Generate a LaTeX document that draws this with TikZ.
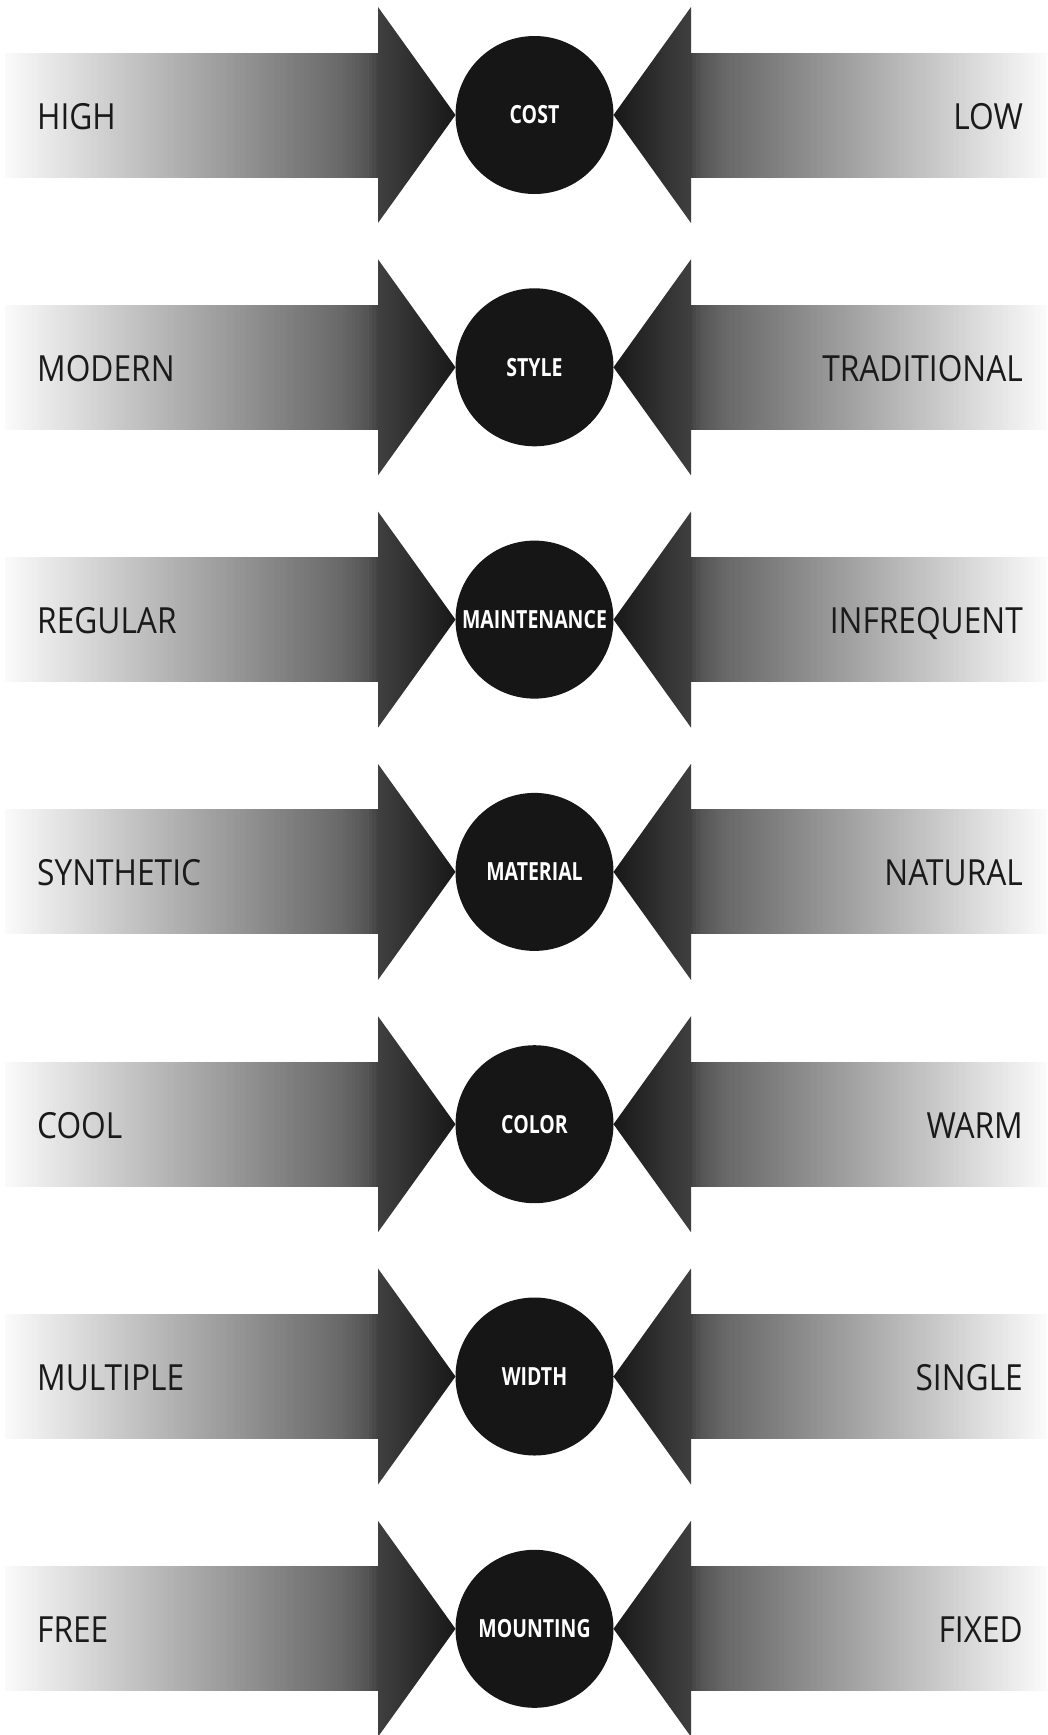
\documentclass[tikz,border=0pt]{standalone}
\usepackage{fontspec}
\newfontfamily\lblfont[FakeStretch=0.88]{Open Sans}
\newfontfamily\ctrfont[FakeStretch=0.78]{Open Sans}
\definecolor{headbase}{HTML}{404040}
\definecolor{headtip}{HTML}{181818}
\definecolor{circ}{HTML}{161616}
\definecolor{txt}{HTML}{1A1A1A}
\tikzset{
  ctr/.style={circle, fill=circ, minimum size=158pt, inner sep=0pt, text=white,
    font=\ctrfont\bfseries\fontsize{25}{28}\selectfont},
  lbl/.style={inner sep=0pt, text=txt, font=\lblfont\fontsize{36}{40}\selectfont},
  headL/.style={left color=headbase, right color=headtip},
  headR/.style={left color=headtip, right color=headbase},
  strip/.style={fill=tmpg}
}
\begin{document}
\begin{tikzpicture}[x=1pt,y=-1pt]
\useasboundingbox (0,0) rectangle (1047,1735);
\fill[white] (0,0) rectangle (1047,1735);
\foreach \i/\lt/\ct/\rt in {0/HIGH/COST/LOW, 1/MODERN/STYLE/TRADITIONAL, 2/REGULAR/MAINTENANCE/INFREQUENT, 3/SYNTHETIC/MATERIAL/NATURAL, 4/COOL/COLOR/WARM, 5/MULTIPLE/WIDTH/SINGLE, 6/FREE/MOUNTING/FIXED}{
  \pgfmathsetmacro\cy{115+252.3*\i}
  % gradient shafts (drawn as thin strips)
  \foreach \k in {0,...,109}{
    \pgfmathsetmacro\tpos{(\k+0.5)/110}
    \pgfmathsetmacro\gval{\tpos<0.08 ? 0.984-0.64*\tpos : (\tpos<0.9 ? 0.933-0.638*(\tpos-0.08) : (\tpos<0.97 ? 0.41-1.143*(\tpos-0.9) : 0.33-2.67*(\tpos-0.97)))}
    \pgfmathsetmacro\xa{5+3.4*\k}
    \pgfmathsetmacro\xb{5+3.4*\k+3.9}
    \pgfmathsetmacro\xc{1047-3.24545*\k}
    \pgfmathsetmacro\xd{1047-3.24545*\k-3.75}
    \definecolor{tmpg}{gray}{\gval}
    \fill[strip] (\xa,\cy-62.5) rectangle (\xb,\cy+62.5);
    \fill[strip] (\xc,\cy-62.5) rectangle (\xd,\cy+62.5);
  }
  \shade[headL] (378,\cy-108) -- (455.5,\cy) -- (378,\cy+108) -- cycle;
  \shade[headR] (691,\cy-108) -- (613.5,\cy) -- (691,\cy+108) -- cycle;
  \node[ctr] (c\i) at (534.5,\cy) {\ct};
  \node[lbl, anchor=base west] (l\i) at (37,\cy+14) {\lt};
  \node[lbl, anchor=base east] (r\i) at (1023,\cy+14) {\rt};
}
\end{tikzpicture}
\end{document}
